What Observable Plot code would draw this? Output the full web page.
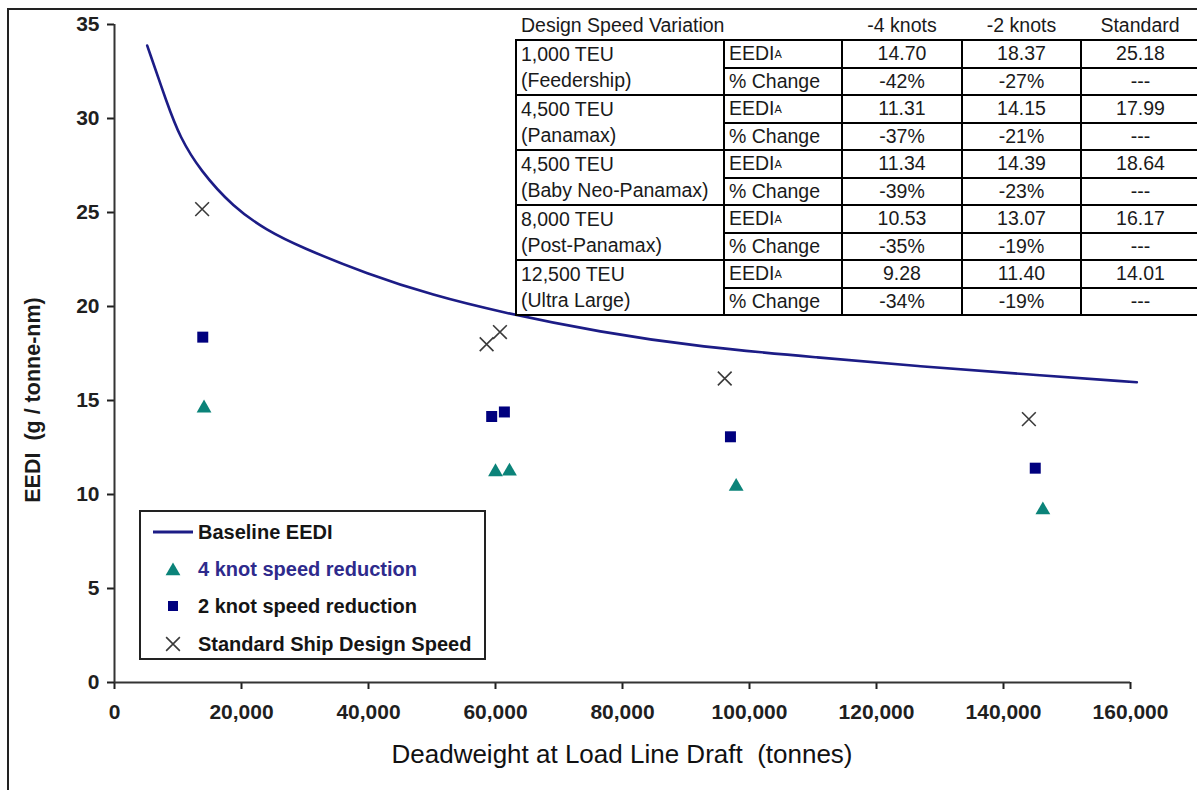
<!DOCTYPE html>
<html>
<head>
<meta charset="utf-8">
<script src="https://cdn.jsdelivr.net/npm/d3@7"></script>
<script src="https://cdn.jsdelivr.net/npm/@observablehq/plot@0.6"></script>
<style>
html, body { margin: 0; padding: 0; background: #fff; }
#wrap { position: relative; width: 1197px; height: 790px; overflow: hidden;
        font-family: "Liberation Sans", Arial, sans-serif; color: #1a1a1a; background: #fff; }
#chart { position: absolute; left: 0; top: 0; }
#frame { position: absolute; left: 7px; top: 8px; width: 1400px; height: 1000px;
         border-left: 2px solid #222; border-top: 2px solid #222; pointer-events: none; }
.cell { position: absolute; box-sizing: border-box; border: 2px solid #000; background: #fff;
        font-size: 19.5px; display: flex; align-items: center; justify-content: center; white-space: pre; }
.cell.left { justify-content: flex-start; padding-left: 4px; }
.namecell { position: absolute; box-sizing: border-box; border: 2px solid #000; background: #fff;
            font-size: 19.5px; padding-left: 4px; white-space: pre; }
.namecell div { height: 26px; line-height: 26px; }
.hdr { position: absolute; font-size: 19.5px; white-space: pre; transform: translate(-50%, -50%); }
#legend { position: absolute; left: 139px; top: 510px; width: 347px; height: 150px;
          box-sizing: border-box; border: 2px solid #222; background: #fff; }
.lg { position: absolute; left: 57px; font-size: 20px; font-weight: bold; white-space: pre;
      transform: translateY(-50%); }
.lgsym { position: absolute; left: 0; }
#ytitle { position: absolute; left: 33px; top: 400px; transform: translate(-50%, -50%) rotate(-90deg);
          font-size: 21.5px; font-weight: bold; white-space: pre; }
#xtitle { position: absolute; left: 622px; top: 754px; transform: translate(-50%, -50%);
          font-size: 26px; white-space: pre; color: #111; }
</style>
</head>
<body>
<div id="wrap">
  <div id="chart"></div>
  <div id="ytitle"></div>
  <div id="xtitle"></div>
  <div id="legend"></div>
  <div id="table"></div>
  <div id="frame"></div>
</div>
<script>
// ---------------- data ----------------
const xTicks = [0, 20000, 40000, 60000, 80000, 100000, 120000, 140000, 160000];
const yTicks = [0, 5, 10, 15, 20, 25, 30, 35];

// Baseline EEDI curve
const baseDwt  = [5150, 8300, 10300, 13500, 18700, 24000, 29300, 39700, 50200, 60800, 76500, 92300, 111200, 126900, 142700, 161000];
const baseEedi = [33.88, 30.78, 29.0, 27.23, 25.28, 24.04, 23.16, 21.74, 20.59, 19.70, 18.63, 17.84, 17.28, 16.81, 16.42, 15.97];

// Ship designs
const shipSize  = ["1,000 TEU", "4,500 TEU", "4,500 TEU", "8,000 TEU", "12,500 TEU"];
const shipClass = ["(Feedership)", "(Panamax)", "(Baby Neo-Panamax)", "(Post-Panamax)", "(Ultra Large)"];

const dwt4   = [14100, 60000, 62200, 97900, 146200];
const dwt2   = [13900, 59400, 61400, 97000, 145000];
const dwtStd = [13800, 58600, 60700, 96100, 144000];

const eedi4   = [14.70, 11.31, 11.34, 10.53, 9.28];
const eedi2   = [18.37, 14.15, 14.39, 13.07, 11.40];
const eediStd = [25.18, 17.99, 18.64, 16.17, 14.01];

const chg4   = ["-42%", "-37%", "-39%", "-35%", "-34%"];
const chg2   = ["-27%", "-21%", "-23%", "-19%", "-19%"];
const chgStd = ["---", "---", "---", "---", "---"];

const tableHeader = ["Design Speed Variation", "-4 knots", "-2 knots", "Standard"];
const legendLabels = ["Baseline EEDI", "4 knot speed reduction", "2 knot speed reduction", "Standard Ship Design Speed"];
const xTitle = "Deadweight at Load Line Draft  (tonnes)";
const yTitle = "EEDI  (g / tonne-nm)";

// ---------------- chart ----------------
const baseline = baseDwt.map((d, i) => ({dwt: d, eedi: baseEedi[i]}));
const four = dwt4.map((d, i) => ({dwt: d, eedi: eedi4[i]}));
const two  = dwt2.map((d, i) => ({dwt: d, eedi: eedi2[i]}));
const std  = dwtStd.map((d, i) => ({dwt: d, eedi: eediStd[i]}));

const colLine = "#1c1c86", colFour = "#0b8379", colTwo = "#00007e", colStd = "#3a3a3a";

const chart = Plot.plot({
  width: 1197, height: 790,
  marginLeft: 114, marginRight: 67, marginTop: 24, marginBottom: 108,
  style: {fontFamily: "Liberation Sans, Arial, sans-serif", background: "transparent", color: "#1f1f1f", overflow: "visible"},
  x: {domain: [0, 160000]},
  y: {domain: [0, 35]},
  marks: [
    Plot.axisX({ticks: xTicks, tickFormat: d3.format(","), tickSize: 7, tickPadding: 15,
                fontSize: 21, fontWeight: "bold", strokeWidth: 2, label: null}),
    Plot.axisY({ticks: yTicks, tickSize: 7, tickPadding: 8,
                fontSize: 21, fontWeight: "bold", strokeWidth: 2, label: null}),
    Plot.ruleX([0], {stroke: "#333", strokeWidth: 2}),
    Plot.ruleY([0], {stroke: "#333", strokeWidth: 2}),
    Plot.line(baseline, {x: "dwt", y: "eedi", stroke: colLine, strokeWidth: 2.6, curve: "basis"}),
    Plot.dot(std, {x: "dwt", y: "eedi", symbol: "times", r: 6.3, stroke: colStd, strokeWidth: 1.6}),
    Plot.dot(two, {x: "dwt", y: "eedi", symbol: "square", r: 6.2, fill: colTwo, stroke: null}),
    Plot.dot(four, {x: "dwt", y: "eedi", symbol: "triangle", r: 5.5, fill: colFour, stroke: null, dy: 2})
  ]
});
document.getElementById("chart").appendChild(chart);

document.getElementById("xtitle").textContent = xTitle;
document.getElementById("ytitle").textContent = yTitle;

// ---------------- legend ----------------
const legend = document.getElementById("legend");
const lgY = [20, 57, 94, 132];
const lgColors = ["#151515", "#2e2a8c", "#151515", "#151515"];
function symSvg(kind) {
  const ns = "http://www.w3.org/2000/svg";
  const svg = document.createElementNS(ns, "svg");
  svg.setAttribute("width", 56); svg.setAttribute("height", 20);
  const p = document.createElementNS(ns, "path");
  if (kind === 0) {
    p.setAttribute("d", "M12,10H52"); p.setAttribute("stroke", colLine); p.setAttribute("stroke-width", 3);
  } else if (kind === 1) {
    p.setAttribute("d", d3.symbol(d3.symbolTriangle, Math.PI * 5.5 * 5.5)());
    p.setAttribute("transform", "translate(32,12)"); p.setAttribute("fill", colFour);
  } else if (kind === 2) {
    p.setAttribute("d", d3.symbol(d3.symbolSquare, 100)());
    p.setAttribute("transform", "translate(32,10)"); p.setAttribute("fill", colTwo);
  } else {
    p.setAttribute("d", d3.symbol(d3.symbolTimes, Math.PI * 6.3 * 6.3)());
    p.setAttribute("transform", "translate(32,10)"); p.setAttribute("stroke", colStd);
    p.setAttribute("stroke-width", 1.6); p.setAttribute("fill", "none");
  }
  svg.appendChild(p);
  return svg;
}
legendLabels.forEach((t, i) => {
  const s = document.createElement("div");
  s.className = "lgsym"; s.style.top = (lgY[i] - 10) + "px";
  s.appendChild(symSvg(i));
  legend.appendChild(s);
  const d = document.createElement("div");
  d.className = "lg"; d.style.top = lgY[i] + "px"; d.style.color = lgColors[i];
  d.textContent = t;
  legend.appendChild(d);
});

// ---------------- table ----------------
const table = document.getElementById("table");
const colX = [516, 724, 842, 962, 1081, 1200];
const rowTop = 40, rowH = 27.5;
function cell(x0, x1, y0, y1, html, cls) {
  const d = document.createElement("div");
  d.className = "cell" + (cls ? " " + cls : "");
  d.style.left = (x0 - 1) + "px"; d.style.top = (y0 - 1) + "px";
  d.style.width = (x1 - x0 + 2) + "px"; d.style.height = (y1 - y0 + 2) + "px";
  d.innerHTML = html;
  table.appendChild(d);
}
// header
[[521, "left"], [902], [1021.5], [1140]].forEach((h, i) => {
  const d = document.createElement("div");
  d.className = "hdr";
  d.textContent = tableHeader[i];
  d.style.top = "25px";
  if (h[1] === "left") { d.style.left = h[0] + "px"; d.style.transform = "translateY(-50%)"; }
  else d.style.left = h[0] + "px";
  table.appendChild(d);
});
shipSize.forEach((s, i) => {
  const y0 = rowTop + i * 2 * rowH, y1 = y0 + rowH, y2 = y1 + rowH;
  const n = document.createElement("div");
  n.className = "namecell";
  n.style.left = (colX[0] - 1) + "px"; n.style.top = (y0 - 1) + "px";
  n.style.width = (colX[1] - colX[0] + 2) + "px"; n.style.height = (y2 - y0 + 2) + "px";
  const a = document.createElement("div"); a.textContent = s;
  const b = document.createElement("div"); b.textContent = shipClass[i];
  n.appendChild(a); n.appendChild(b);
  table.appendChild(n);
  cell(colX[1], colX[2], y0, y1, "EEDI<sub style='font-size:11px;vertical-align:-4px'>A</sub>", "left");
  cell(colX[1], colX[2], y1, y2, "% Change", "left");
  cell(colX[2], colX[3], y0, y1, eedi4[i].toFixed(2));
  cell(colX[3], colX[4], y0, y1, eedi2[i].toFixed(2));
  cell(colX[4], colX[5], y0, y1, eediStd[i].toFixed(2));
  cell(colX[2], colX[3], y1, y2, chg4[i]);
  cell(colX[3], colX[4], y1, y2, chg2[i]);
  cell(colX[4], colX[5], y1, y2, chgStd[i]);
});
</script>
</body>
</html>
